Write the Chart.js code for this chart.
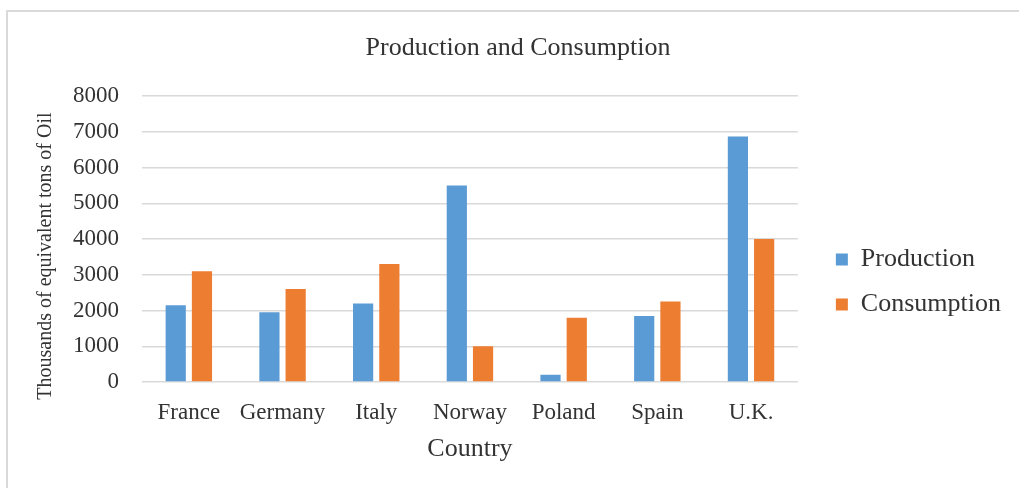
<!DOCTYPE html>
<html>
<head>
<meta charset="utf-8">
<script src="https://cdn.jsdelivr.net/npm/chart.js@4"></script>
<style>
  html, body { margin: 0; padding: 0; background: #fff; overflow: hidden; }
  .frame {
    position: absolute; left: 6px; top: 10px; width: 1100px; height: 600px;
    border-left: 2px solid #dadada; border-top: 2px solid #dadada;
  }
  .wrap { position: absolute; left: 8px; top: 12px; width: 1011px; height: 476px; }
</style>
</head>
<body>
<div class="frame"></div>
<div class="wrap"><canvas id="chart"></canvas></div>
<script>
const countries = ["France", "Germany", "Italy", "Norway", "Poland", "Spain", "U.K."];
const production = [2150, 1950, 2200, 5500, 200, 1850, 6870];
const consumption = [3100, 2600, 3300, 1000, 1800, 2250, 4000];

const serif = "'Liberation Serif', 'Times New Roman', serif";
const textColor = "#333333";

// nudge legend, title and y-axis title to where the original has them
const nudge = {
    id: 'nudge',
    afterLayout(chart) {
        const lg = chart.legend;
        lg.left += 19; lg.right += 19;
        lg.top += 32; lg.bottom += 32;
        const t = chart.titleBlock;
        t.left += 18; t.right += 18;
        const y = chart.scales.y;
        y.top += 17; y.bottom += 17;
    }
};

const ctx = document.getElementById("chart").getContext("2d");
new Chart(ctx, {
    type: "bar",
    data: {
        labels: countries,
        datasets: [
            {
                label: "Production",
                data: production,
                backgroundColor: "#5b9bd5"
            },
            {
                label: "Consumption",
                data: consumption,
                backgroundColor: "#ed7d31"
            }
        ]
    },
    options: {
        responsive: true,
        maintainAspectRatio: false,
        animation: false,
        categoryPercentage: 0.56,
        barPercentage: 0.77,
        layout: { padding: { left: 0, right: 27, top: 0, bottom: 0 } },
        plugins: {
            title: {
                display: true,
                text: "Production and Consumption",
                color: textColor,
                font: { family: serif, size: 26, weight: 'normal' },
                padding: { top: 21, bottom: 32 }
            },
            legend: {
                position: 'right',
                labels: {
                    color: textColor,
                    font: { family: serif, size: 26 },
                    boxWidth: 12,
                    boxHeight: 12,
                    padding: 19
                }
            },
            tooltip: { enabled: false }
        },
        scales: {
            x: {
                grid: { display: false },
                border: { display: false },
                ticks: {
                    color: textColor,
                    font: { family: serif, size: 23 },
                    padding: 9,
                    maxRotation: 0
                },
                title: {
                    display: true,
                    text: "Country",
                    color: textColor,
                    font: { family: serif, size: 26 },
                    padding: { top: 0, bottom: 23 }
                },
                afterFit(scale) { scale.height = 106; }
            },
            y: {
                min: 0,
                max: 8000,
                ticks: {
                    stepSize: 1000,
                    color: textColor,
                    font: { family: serif, size: 23 },
                    padding: 23,
                    callback: value => String(value)
                },
                grid: { color: "#d9d9d9", lineWidth: 1.5, drawTicks: false },
                border: { display: false },
                title: {
                    display: true,
                    text: "Thousands of equivalent tons of Oil",
                    color: textColor,
                    font: { family: serif, size: 20 },
                    padding: { top: 26, bottom: 0 }
                },
                afterFit(scale) { scale.width = 134; }
            }
        }
    },
    plugins: [nudge]
});
</script>
</body>
</html>
